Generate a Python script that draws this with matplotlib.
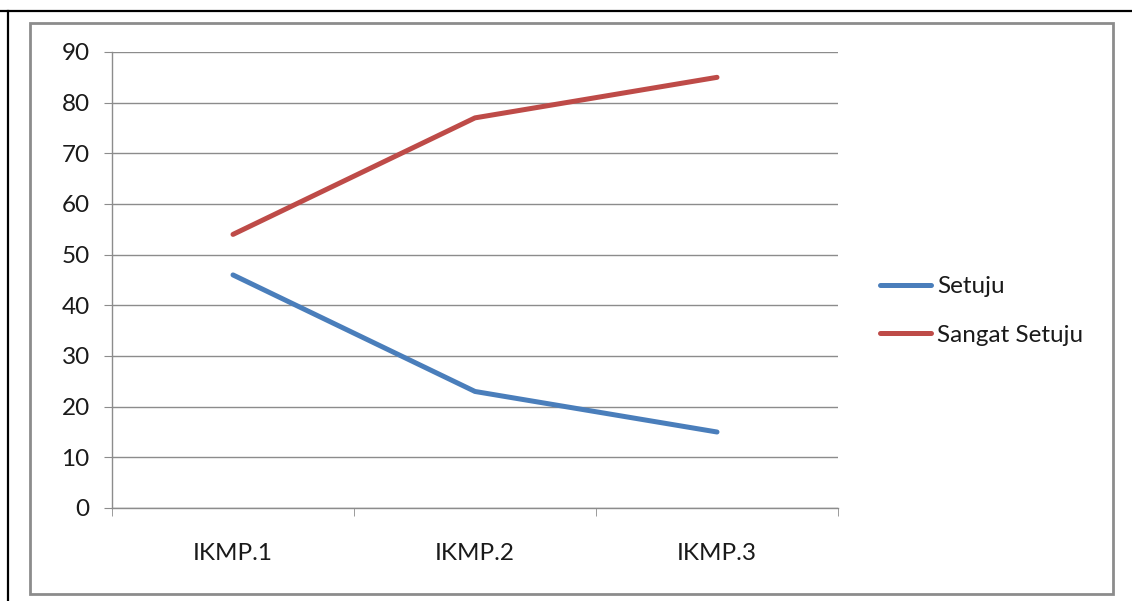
import matplotlib.pyplot as plt
from matplotlib.patches import Rectangle
from matplotlib.lines import Line2D
import numpy as np

kategori = ['IKMP.1', 'IKMP.2', 'IKMP.3']
setuju = [46, 23, 15]
sangat_setuju = [54, 77, 85]
yticks = [0, 10, 20, 30, 40, 50, 60, 70, 80, 90]

plt.rcParams['font.family'] = ['Lato', 'DejaVu Sans']

W, H = 1132, 601
fig = plt.figure(figsize=(W / 100, H / 100), dpi=100)

# outer frame lines (top and left) and gray chart border
fig.add_artist(Line2D([0, 1], [1 - 11 / H, 1 - 11 / H], color='black', lw=1.6, transform=fig.transFigure))
fig.add_artist(Line2D([8 / W, 8 / W], [0, 1 - 11 / H], color='black', lw=1.6, transform=fig.transFigure))
fig.add_artist(Rectangle((30 / W, (H - 594) / H), (1113 - 30) / W, (594 - 23) / H,
                         fill=False, ec='#8c8c8c', lw=2, transform=fig.transFigure))

ax = fig.add_axes([112 / W, (H - 508) / H, 726 / W, 456 / H])

x = np.arange(len(kategori)) + 0.5
ax.plot(x, setuju, color='#4a7ebb', lw=3.6, solid_capstyle='round', label='Setuju')
ax.plot(x, sangat_setuju, color='#be4b48', lw=3.6, solid_capstyle='round', label='Sangat Setuju')

ax.set_xlim(0, 3)
ax.set_ylim(0, 90)
ax.set_yticks(yticks)
ax.set_xticks(x)
ax.set_xticklabels(kategori)
ax.set_xticks(np.arange(4), minor=True)

ax.grid(axis='y', color='#8c8c8c', lw=1)
ax.set_axisbelow(True)
for s in ['top', 'right']:
    ax.spines[s].set_visible(False)
for s in ['left', 'bottom']:
    ax.spines[s].set_color('#8c8c8c')
    ax.spines[s].set_linewidth(1)

fs = 17.5
ax.tick_params(axis='y', length=6, color='#8c8c8c', pad=10, labelsize=fs, labelcolor='#1a1a1a')
ax.tick_params(axis='x', which='major', length=0, pad=25, labelsize=fs, labelcolor='#1a1a1a')
ax.tick_params(axis='x', which='minor', length=6, color='#8c8c8c')

ax.legend(loc='center left', bbox_to_anchor=(858 / W, (H - 311) / H), bbox_transform=fig.transFigure,
          frameon=False, fontsize=fs, handlelength=2.1, handletextpad=0.25, labelspacing=1.15,
          labelcolor='#1a1a1a')

fig.savefig('out.png', dpi=100)
